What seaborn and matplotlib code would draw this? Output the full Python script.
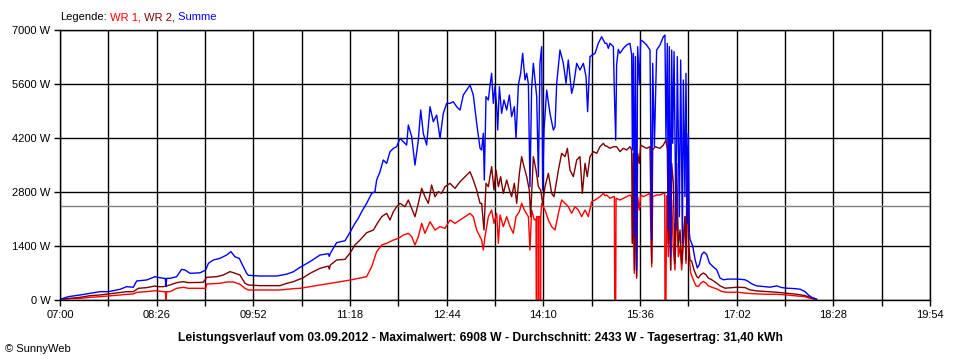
import pandas as pd
import matplotlib
matplotlib.use("Agg")
import matplotlib.pyplot as plt
from matplotlib.ticker import MultipleLocator, FixedLocator
import seaborn as sns

# minutes after 07:00 and power in W (03.09.2012)
wr1_min = [0.0, 8.9, 17.8, 26.7, 35.6, 43.0, 53.4, 59.3, 65.2, 68.2, 77.1, 84.5, 91.9, 93.7, 94.3, 94.9,
           97.9, 103.8, 109.7, 114.2, 129.6, 130.5, 142.3, 148.3, 154.2, 160.1, 164.6, 167.6, 177.9,
           195.7, 201.7, 207.6, 213.5, 222.4, 240.2, 258.3, 272.8, 277.3, 281.7, 286.2, 290.6, 296.6,
           301.0, 305.5, 309.9, 312.9, 315.8, 318.8, 321.8, 324.7, 329.2, 333.6, 338.1, 342.5, 347.0,
           351.4, 355.9, 360.3, 364.8, 367.7, 370.7, 373.7, 375.1, 376.6, 378.1, 381.1, 384.0, 386.1,
           388.5, 390.0, 391.5, 394.4, 397.4, 400.4, 403.3, 405.7, 408.7, 410.7, 413.1, 416.7, 418.1,
           419.6, 422.0, 423.5, 423.9, 424.1, 425.5, 425.7, 425.9, 427.3, 427.5, 427.7,
           428.5, 431.5, 434.5, 437.4, 440.4, 443.4, 446.3, 449.3, 452.2, 455.2, 458.2, 461.1, 464.1,
           467.1, 470.0, 473.0, 476.0, 480.4, 483.4, 484.9, 486.4, 489.3, 492.3, 493.2, 493.5, 494.4,
           494.7, 498.2, 501.2, 504.1, 507.1, 508.6, 509.2, 510.1, 511.0, 512.2, 513.0, 513.9, 515.4,
           516.6, 519.0, 521.9, 524.9, 526.4, 527.3, 530.8, 533.8, 536.8, 538.0, 538.2, 539.1, 539.7,
           540.3, 541.2, 542.1, 543.3, 544.2, 545.7, 547.1, 548.6, 550.1, 551.6, 553.1, 554.6, 556.0,
           556.9, 558.1, 559.3, 560.5, 561.1, 563.4, 565.8, 567.9, 570.0, 572.4, 574.7, 576.8, 579.8,
           584.2, 588.7, 593.1, 602.9, 610.9, 619.8, 628.7, 637.6, 646.5, 655.4, 662.8, 667.2, 671.7,
           673.2]
wr1_w = [17, 35, 43, 69, 86, 104, 130, 147, 156, 199, 216, 242, 216, 216, 0, 216,
         216, 303, 329, 303, 303, 415, 432, 467, 467, 406, 303, 259, 259,
         259, 277, 294, 303, 346, 432, 518, 605, 864, 1253, 1426, 1469, 1555,
         1598, 1685, 1728, 1642, 1426, 1642, 1987, 1728, 2030, 1814, 1901, 1858, 2074,
         1987, 2074, 2160, 2246, 2160, 1814, 1642, 1556, 1296, 1642, 2161, 2333, 1988,
         2247, 1469, 2204, 1901, 2161, 1901, 1728, 2161, 2290, 2506, 2333, 2161, 1296,
         2333, 2074, 2100, 0, 2161, 2161, 0, 2161, 2161, 0, 2161,
         2506, 2333, 2074, 1901, 1815, 2247, 2593, 2506, 2420, 2247, 2420, 2333, 2161,
         2333, 2161, 2549, 2593, 2679, 2765, 2700, 2722, 2636, 2679, 2679, 0, 0,
         2636, 2593, 2636, 2679, 2722, 2679, 1469, 2679, 691, 2765, 562, 2679, 2333,
         2722, 2679, 2722, 2765, 864, 2679, 2722, 2722, 2765, 2765, 0, 0, 2700,
         2679, 1123, 2593, 778, 2593, 1296, 778, 2593, 1123, 1383, 778, 1469, 2161,
         951, 2938, 1383, 864, 700, 525, 367, 350, 437, 481, 437, 367, 332,
         289, 219, 201, 201, 175, 157, 149, 149, 131, 105, 87, 44, 17,
         17]

wr2_min = [0.0, 8.9, 17.8, 26.7, 35.6, 43.0, 53.4, 59.3, 65.2, 69.7, 77.1, 84.5, 86.6, 91.9, 97.9,
           103.8, 109.7, 114.2, 127.5, 130.5, 139.4, 145.3, 151.2, 154.2, 160.1, 164.6, 167.6, 177.9,
           195.7, 201.7, 207.6, 213.5, 215.6, 222.4, 231.3, 238.7, 239.6, 240.5, 246.1, 253.6, 258.3,
           262.4, 266.9, 272.8, 278.8, 282.3, 286.2, 290.6, 293.6, 296.6, 299.5, 302.5, 306.9, 309.9,
           312.9, 315.8, 318.8, 321.8, 324.7, 327.7, 330.6, 333.6, 336.6, 339.5, 342.5, 347.0, 351.4,
           355.9, 360.3, 364.8, 367.7, 370.7, 373.7, 375.1, 377.2, 379.0, 381.1, 384.0, 386.1, 387.9,
           390.0, 392.0, 394.4, 397.4, 399.8, 401.8, 404.2, 406.3, 408.7, 410.7, 412.8, 415.2, 417.5,
           418.7, 421.1, 423.5, 425.6, 427.6, 429.4, 431.5, 434.5, 437.4, 439.5, 443.4, 446.3, 449.3,
           451.4, 453.7, 456.7, 459.7, 462.6, 464.7, 467.1, 469.1, 471.5, 474.5, 477.5, 480.4, 483.4,
           484.9, 486.4, 489.3, 492.3, 495.2, 498.2, 501.2, 504.1, 507.1, 508.6, 509.2, 510.1, 511.0,
           512.2, 513.0, 513.9, 515.4, 516.6, 519.0, 521.9, 524.9, 526.4, 527.3, 529.4, 533.8, 536.8,
           539.1, 540.3, 541.2, 542.1, 543.3, 544.2, 545.7, 547.1, 548.6, 550.1, 551.6, 553.1, 554.6,
           556.0, 556.9, 558.1, 559.3, 560.5, 562.0, 564.0, 566.4, 567.9, 570.0, 572.4, 574.7, 576.8,
           579.8, 584.2, 587.2, 591.6, 602.9, 609.4, 613.9, 619.8, 628.7, 637.6, 646.5, 655.4, 662.8,
           667.2, 671.7, 673.2]
wr2_w = [17, 43, 69, 112, 130, 156, 190, 216, 216, 303, 320, 363, 346, 346, 389,
         450, 475, 450, 458, 588, 605, 648, 735, 709, 648, 432, 389, 372,
         372, 432, 475, 545, 562, 691, 821, 880, 800, 907, 1037, 1054, 1227,
         1426, 1555, 1745, 1814, 1987, 2160, 2246, 2074, 2290, 2419, 2506, 2419, 2592,
         2376, 2160, 2506, 2894, 2678, 2506, 2981, 2678, 2808, 2765, 2938, 3024, 2894,
         3067, 3197, 3326, 3110, 2851, 2506, 2506, 1815, 3025, 2938, 3457, 2852, 3370,
         2938, 3198, 2765, 3111, 2852, 2679, 3025, 2506, 3284, 3716, 3457, 3198, 2852,
         2161, 3716, 3370, 2938, 2852, 2506, 2938, 3284, 2765, 2679, 3370, 3803, 3716,
         3932, 3370, 3198, 3630, 3716, 2765, 3543, 3198, 3716, 3846, 3803, 3975, 4062,
         4000, 3990, 3932, 3975, 3975, 3846, 3932, 3889, 3975, 3889, 1469, 3803, 778,
         3889, 605, 3803, 3543, 4018, 3975, 3932, 3975, 951, 3889, 3975, 3932, 4018,
         4148, 3889, 1469, 3803, 778, 3543, 3025, 951, 3543, 1383, 1815, 951, 1642,
         2161, 1037, 3975, 1469, 1037, 1006, 787, 612, 569, 656, 700, 656, 569,
         525, 437, 367, 306, 332, 323, 262, 236, 219, 201, 175, 149, 114,
         70, 35, 17]

sum_min = [0.0, 7.4, 17.8, 26.7, 35.6, 43.0, 53.4, 59.3, 65.2, 68.2, 77.1, 84.5, 86.6, 91.9, 93.7,
           94.3, 94.9, 97.9, 103.8, 108.2, 111.2, 115.7, 124.6, 129.6, 132.0, 136.4, 142.3, 148.3,
           152.1, 155.7, 159.5, 161.6, 166.1, 167.6, 177.9, 192.8, 201.7, 207.6, 213.5, 222.4, 231.3,
           238.7, 239.6, 240.5, 246.1, 253.6, 258.3, 262.4, 265.4, 268.4, 272.8, 277.3, 280.2, 281.7,
           284.7, 287.6, 290.6, 293.6, 296.6, 299.5, 302.5, 305.5, 308.4, 309.9, 312.9, 315.8, 318.8,
           320.9, 323.2, 326.2, 329.2, 332.1, 335.1, 338.1, 341.0, 344.0, 347.0, 349.9, 352.9, 355.9,
           358.8, 361.8, 364.8, 367.7, 370.7, 373.7, 375.1, 376.6, 377.5, 379.0, 381.1, 382.6, 384.0,
           385.5, 387.0, 388.5, 389.4, 390.9, 392.9, 395.0, 397.4, 399.8, 401.8, 404.2, 405.7, 407.8,
           409.8, 411.6, 413.7, 415.2, 416.7, 418.1, 419.6, 421.1, 422.6, 424.1, 425.6, 427.0, 428.5,
           429.4, 430.6, 433.0, 435.9, 438.9, 440.4, 441.9, 444.8, 447.8, 450.2, 452.2, 455.2, 456.7,
           459.7, 462.6, 465.6, 468.0, 469.4, 471.5, 473.6, 476.0, 478.9, 481.9, 484.9, 486.4, 487.8,
           489.3, 490.8, 492.3, 493.2, 494.4, 495.2, 496.7, 498.2, 501.2, 504.1, 507.1, 508.6, 509.2,
           510.1, 511.0, 511.9, 513.0, 513.9, 515.4, 516.6, 519.0, 521.9, 524.9, 526.4, 527.3, 528.8,
           530.8, 533.8, 536.8, 538.2, 539.1, 540.3, 541.2, 542.1, 543.3, 544.2, 545.1, 546.3, 548.0,
           549.2, 551.0, 552.2, 553.7, 554.6, 556.0, 556.9, 558.1, 559.0, 559.9, 560.5, 562.9, 565.0,
           567.0, 568.8, 570.9, 572.9, 575.3, 577.7, 581.2, 584.2, 587.2, 590.1, 594.6, 602.9, 609.4,
           612.4, 615.4, 619.8, 625.7, 631.7, 637.6, 642.0, 646.5, 652.4, 658.4, 662.8, 665.8, 668.7,
           671.7, 673.2]
sum_w = [17, 86, 130, 173, 216, 216, 277, 346, 330, 493, 519, 605, 590, 562, 560,
         346, 560, 562, 605, 795, 778, 691, 705, 778, 950, 1037, 1080, 1167,
         1253, 1118, 1080, 950, 691, 640, 622, 622, 671, 731, 847, 994, 1166,
         1200, 1130, 1210, 1486, 1538, 1771, 1987, 2117, 2290, 2506, 2765, 2808, 3110,
         3326, 3629, 3542, 3845, 3931, 3974, 4190, 4104, 4018, 4536, 4234, 3499, 4147,
         4925, 4320, 4018, 5011, 4622, 4795, 4190, 4838, 5098, 5098, 5141, 5011, 4925,
         5314, 5443, 5573, 5314, 4579, 3931, 3889, 4321, 3111, 5272, 5185, 5574, 5877,
         5099, 5531, 5012, 4407, 5531, 4840, 5185, 4926, 5315, 4753, 5012, 4191, 5574,
         5877, 6395, 5704, 5877, 5600, 2938, 5500, 6136, 5700, 5272, 3198, 6136, 6568,
         2852, 4407, 5444, 4840, 4407, 4494, 5617, 6481, 6136, 5617, 6222, 5358, 5531,
         6136, 5963, 6136, 5790, 4883, 6309, 6352, 6395, 6654, 6827, 6654, 6654, 6525,
         6654, 6611, 6568, 5358, 4148, 6100, 6500, 6395, 6525, 6611, 6654, 6352, 3889,
         6395, 1642, 6309, 778, 6568, 5617, 6741, 6698, 6611, 6481, 1556, 6136, 3975,
         6481, 6611, 6827, 6870, 4148, 6654, 1815, 6568, 1124, 6481, 4062, 6439, 1815,
         6309, 2161, 6222, 1469, 5704, 2679, 5876, 1988, 4321, 1728, 1575, 1400, 1050,
         831, 919, 1181, 1243, 1181, 962, 857, 787, 569, 525, 542, 542, 525,
         481, 420, 367, 350, 332, 367, 323, 306, 297, 280, 219, 131, 70,
         35, 17]

avg_w = 2433
x_ticks = [0, 86, 172, 258, 344, 430, 516, 602, 688, 774]
x_tick_labels = ["07:00", "08:26", "09:52", "11:18", "12:44", "14:10", "15:36", "17:02", "18:28", "19:54"]
y_ticks = [0, 1400, 2800, 4200, 5600, 7000]
y_tick_labels = ["0 W", "1400 W", "2800 W", "4200 W", "5600 W", "7000 W"]

names = ["WR 1", "WR 2", "Summe"]
colors = {"WR 1": "#ff0000", "WR 2": "#800000", "Summe": "#0000ff"}

frames = [
    pd.DataFrame({"minute": wr1_min, "W": wr1_w, "series": "WR 1"}),
    pd.DataFrame({"minute": wr2_min, "W": wr2_w, "series": "WR 2"}),
    pd.DataFrame({"minute": sum_min, "W": sum_w, "series": "Summe"}),
]
df = pd.concat(frames, ignore_index=True)

sns.set_theme(style="white")
plt.rcParams["font.family"] = ["Liberation Sans", "DejaVu Sans"]

fig = plt.figure(figsize=(9.6, 3.6), dpi=100)
ax = fig.add_axes([60 / 960, 60 / 360, 870 / 960, 270 / 360])

ax.axhline(avg_w, color="#808080", lw=1, zorder=1.5)
sns.lineplot(data=df, x="minute", y="W", hue="series", hue_order=names, palette=colors,
             estimator=None, sort=False, lw=1, legend=False, ax=ax, zorder=2)

ax.set_xlim(0, 774)
ax.set_ylim(0, 7000)
ax.xaxis.set_major_locator(FixedLocator(x_ticks))
ax.set_xticklabels(x_tick_labels)
ax.xaxis.set_minor_locator(MultipleLocator(43))
ax.set_yticks(y_ticks)
ax.set_yticklabels(y_tick_labels)
ax.set_xlabel("")
ax.set_ylabel("")

ax.set_axisbelow(True)
ax.grid(which="both", axis="x", color="black", lw=1)
ax.grid(which="major", axis="y", color="black", lw=1)
ax.tick_params(which="both", direction="out", length=4, width=1, color="black",
               labelsize=8, labelcolor="black", pad=3, bottom=True, left=True)
for sp in ax.spines.values():
    sp.set_color("black")
    sp.set_linewidth(1)

# legend line at the top: "Legende: WR 1, WR 2, Summe"
renderer = fig.canvas.get_renderer()
legend_parts = [("Legende:", "black"), (" WR 1,", colors["WR 1"]),
                (" WR 2,", colors["WR 2"]), (" Summe", colors["Summe"])]
x = 60 / 960
for txt, col in legend_parts:
    t = fig.text(x, 1 - 17 / 360, txt, color=col, fontsize=8, va="center", ha="left")
    bb = t.get_window_extent(renderer)
    x = bb.x1 / fig.bbox.width

fig.text(0.5, 1 - 338 / 360,
         "Leistungsverlauf vom 03.09.2012 - Maximalwert: 6908 W - Durchschnitt: 2433 W - Tagesertrag: 31,40 kWh",
         ha="center", va="center", fontsize=8.75, fontweight="bold", color="black")
fig.text(5 / 960, 1 - 349 / 360, "© SunnyWeb", ha="left", va="center", fontsize=8, color="black")

fig.savefig("out.png", dpi=100)
